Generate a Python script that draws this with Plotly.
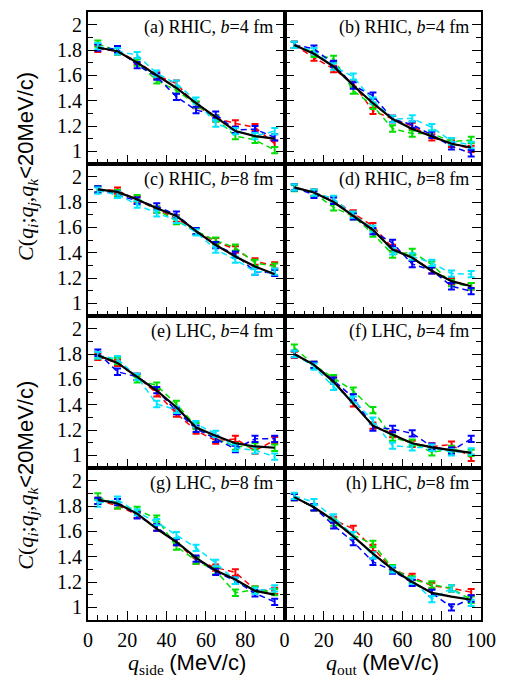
import plotly.graph_objects as go
from plotly.subplots import make_subplots

Q = [5, 15, 25, 35, 45, 55, 65, 75, 85, 95]
ERR = [0.025] * 10

PANEL_LABELS = ["(a) RHIC, <i>b</i>=4 fm", "(b) RHIC, <i>b</i>=4 fm",
                "(c) RHIC, <i>b</i>=8 fm", "(d) RHIC, <i>b</i>=8 fm",
                "(e) LHC, <i>b</i>=4 fm", "(f) LHC, <i>b</i>=4 fm",
                "(g) LHC, <i>b</i>=8 fm", "(h) LHC, <i>b</i>=8 fm"]
Y_TICKS = [1, 1.2, 1.4, 1.6, 1.8, 2]
Y_TICK_TEXT = ["1", "1.2", "1.4", "1.6", "1.8", "2"]
X_TICKS = [0, 20, 40, 60, 80, 100]
X_TICK_TEXT_LEFT = ["0", "20", "40", "60", "80", " "]
X_TICK_TEXT_RIGHT = ["0", "20", "40", "60", "80", "100"]

# (a) RHIC b=4, q_side
a_black = [1.82, 1.79, 1.70, 1.60, 1.50, 1.38, 1.27, 1.16, 1.12, 1.10]
a_red = [1.81, 1.79, 1.71, 1.60, 1.535, 1.365, 1.26, 1.22, 1.19, 1.06]
a_green = [1.85, 1.79, 1.70, 1.56, 1.48, 1.37, 1.26, 1.12, 1.09, 1.01]
a_blue = [1.82, 1.806, 1.68, 1.59, 1.43, 1.326, 1.29, 1.17, 1.175, 1.11]
a_cyan = [1.83, 1.79, 1.76, 1.614, 1.535, 1.40, 1.22, 1.16, 1.12, 1.16]
# (b) RHIC b=4, q_out
b_black = [1.84, 1.77, 1.67, 1.52, 1.38, 1.255, 1.176, 1.12, 1.06, 1.03]
b_red = [1.84, 1.74, 1.65, 1.535, 1.32, 1.255, 1.20, 1.11, 1.06, 1.02]
b_green = [1.84, 1.77, 1.73, 1.48, 1.36, 1.18, 1.14, 1.14, 1.076, 1.09]
b_blue = [1.84, 1.81, 1.69, 1.52, 1.44, 1.255, 1.21, 1.13, 1.04, 0.985]
b_cyan = [1.84, 1.79, 1.67, 1.59, 1.40, 1.255, 1.26, 1.19, 1.08, 1.05]
# (c) RHIC b=8, q_side
c_black = [1.90, 1.88, 1.82, 1.75, 1.69, 1.57, 1.46, 1.37, 1.29, 1.23]
c_red = [1.90, 1.89, 1.82, 1.74, 1.67, 1.57, 1.49, 1.425, 1.33, 1.30]
c_green = [1.90, 1.87, 1.83, 1.74, 1.65, 1.57, 1.495, 1.44, 1.32, 1.29]
c_blue = [1.90, 1.857, 1.81, 1.765, 1.70, 1.57, 1.46, 1.385, 1.25, 1.24]
c_cyan = [1.89, 1.857, 1.78, 1.71, 1.66, 1.56, 1.425, 1.345, 1.25, 1.25]
# (d) RHIC b=8, q_out
d_black = [1.915, 1.875, 1.80, 1.687, 1.58, 1.425, 1.36, 1.255, 1.175, 1.135]
d_red = [1.915, 1.875, 1.82, 1.71, 1.61, 1.437, 1.36, 1.26, 1.175, 1.135]
d_green = [1.91, 1.87, 1.757, 1.687, 1.55, 1.385, 1.405, 1.306, 1.16, 1.135]
d_blue = [1.915, 1.857, 1.81, 1.687, 1.57, 1.476, 1.31, 1.26, 1.135, 1.096]
d_cyan = [1.915, 1.875, 1.825, 1.70, 1.59, 1.41, 1.37, 1.32, 1.235, 1.23]
# (e) LHC b=4, q_side
e_black = [1.79, 1.73, 1.62, 1.51, 1.38, 1.22, 1.155, 1.095, 1.07, 1.06]
e_red = [1.777, 1.73, 1.62, 1.49, 1.33, 1.195, 1.116, 1.13, 1.037, 1.12]
e_green = [1.79, 1.745, 1.60, 1.55, 1.405, 1.23, 1.13, 1.07, 1.07, 1.06]
e_blue = [1.81, 1.66, 1.62, 1.515, 1.35, 1.21, 1.13, 1.05, 1.13, 1.13]
e_cyan = [1.79, 1.76, 1.62, 1.405, 1.36, 1.247, 1.17, 1.06, 1.04, 0.99]
# (f) LHC b=4, q_out
f_black = [1.80, 1.714, 1.58, 1.41, 1.234, 1.163, 1.095, 1.063, 1.043, 1.02]
f_red = [1.793, 1.714, 1.59, 1.41, 1.234, 1.168, 1.09, 1.07, 1.084, 0.98]
f_green = [1.85, 1.714, 1.61, 1.51, 1.357, 1.14, 1.10, 1.024, 1.05, 1.02]
f_blue = [1.80, 1.714, 1.59, 1.457, 1.22, 1.208, 1.173, 1.069, 1.037, 1.13]
f_cyan = [1.80, 1.70, 1.54, 1.44, 1.273, 1.076, 1.063, 1.06, 1.024, 1.03]
# (g) LHC b=8, q_side
g_black = [1.85, 1.82, 1.74, 1.62, 1.516, 1.39, 1.29, 1.22, 1.13, 1.10]
g_red = [1.84, 1.805, 1.73, 1.63, 1.516, 1.37, 1.314, 1.275, 1.14, 1.13]
g_green = [1.876, 1.805, 1.77, 1.70, 1.48, 1.37, 1.287, 1.115, 1.14, 1.12]
g_blue = [1.84, 1.83, 1.726, 1.63, 1.516, 1.385, 1.28, 1.21, 1.11, 1.043]
g_cyan = [1.82, 1.85, 1.75, 1.673, 1.57, 1.47, 1.35, 1.21, 1.13, 1.15]
# (h) LHC b=8, q_out
h_black = [1.87, 1.79, 1.686, 1.56, 1.424, 1.30, 1.20, 1.114, 1.085, 1.06]
h_red = [1.87, 1.79, 1.69, 1.62, 1.47, 1.30, 1.24, 1.17, 1.15, 1.12]
h_green = [1.87, 1.79, 1.67, 1.57, 1.50, 1.31, 1.22, 1.18, 1.15, 1.06]
h_blue = [1.87, 1.79, 1.647, 1.516, 1.36, 1.29, 1.193, 1.114, 1.0, 1.07]
h_cyan = [1.88, 1.83, 1.71, 1.57, 1.41, 1.30, 1.21, 1.065, 1.15, 1.035]

panels = [
    (a_black, a_red, a_green, a_blue, a_cyan),
    (b_black, b_red, b_green, b_blue, b_cyan),
    (c_black, c_red, c_green, c_blue, c_cyan),
    (d_black, d_red, d_green, d_blue, d_cyan),
    (e_black, e_red, e_green, e_blue, e_cyan),
    (f_black, f_red, f_green, f_blue, f_cyan),
    (g_black, g_red, g_green, g_blue, g_cyan),
    (h_black, h_red, h_green, h_blue, h_cyan),
]

COLORS = ["#ff0000", "#00e000", "#0000ff", "#00e5ff"]
SERIF = "Liberation Serif"

fig = make_subplots(rows=4, cols=2, horizontal_spacing=0, vertical_spacing=0)

for i, (blk, red, grn, blu, cyn) in enumerate(panels):
    row, col = i // 2 + 1, i % 2 + 1
    for ys, c in zip([red, grn, blu, cyn], COLORS):
        fig.add_trace(go.Scatter(
            x=Q, y=ys, mode="lines", showlegend=False,
            line=dict(color=c, width=1.5, dash="6px,4px"),
            error_y=dict(type="data", array=ERR, visible=True, color=c,
                         thickness=2, width=3.5)), row=row, col=col)
    fig.add_trace(go.Scatter(x=Q, y=blk, mode="lines", showlegend=False,
                             line=dict(color="black", width=2.2)),
                  row=row, col=col)
    n = i + 1
    xs = "" if n == 1 else str(n)
    fig.add_annotation(text=PANEL_LABELS[i], xref=f"x{xs} domain",
                       yref=f"y{xs} domain", x=0.95, y=0.895,
                       xanchor="right", yanchor="middle", showarrow=False,
                       font=dict(family=SERIF, size=18, color="black"))

for r in range(1, 5):
    for c in range(1, 3):
        bottom = r == 4
        fig.update_xaxes(
            row=r, col=c, range=[0, 100], tickvals=X_TICKS,
            ticktext=X_TICK_TEXT_LEFT if c == 1 else X_TICK_TEXT_RIGHT,
            showticklabels=bottom, ticks="inside", ticklen=9, tickwidth=1.3,
            tickcolor="black",
            minor=dict(dtick=5, ticks="inside", ticklen=5, tickwidth=1.3,
                       tickcolor="black", showgrid=False),
            showline=True, linecolor="black", linewidth=2, mirror=True,
            showgrid=False, zeroline=False, ticklabelstandoff=1,
            tickfont=dict(family=SERIF, size=20, color="black"))
        fig.update_yaxes(
            row=r, col=c, range=[0.9, 2.1], tickvals=Y_TICKS,
            ticktext=Y_TICK_TEXT, showticklabels=(c == 1),
            ticks="inside", ticklen=9, tickwidth=1.3, tickcolor="black",
            minor=dict(dtick=0.1, ticks="inside", ticklen=5, tickwidth=1.3,
                       tickcolor="black", showgrid=False),
            showline=True, linecolor="black", linewidth=2, mirror="ticks",
            showgrid=False, zeroline=False, ticklabelstandoff=0,
            tickfont=dict(family=SERIF, size=20, color="black"))

ytitle = ("<i>C</i>(<i>q</i><sub><i>i</i></sub>;<i>q</i><sub><i>j</i></sub>,"
          "<i>q</i><sub><i>k</i></sub>"
          "<span style=\"font-family:'Liberation Sans'\">&lt;20MeV/c)</span>")
for yc in [0.746, 0.238]:
    fig.add_annotation(text=ytitle, xref="paper", yref="paper", x=-0.154,
                       y=yc, textangle=-90, showarrow=False,
                       xanchor="center", yanchor="middle",
                       font=dict(family=SERIF, size=22, color="black"))

for xc, sub in [(0.2525, "side"), (0.75, "out")]:
    fig.add_annotation(
        text=(f"<i>q</i><sub>{sub}</sub> "
              "<span style=\"font-family:'Liberation Sans'\">(MeV/c)</span>"),
        xref="paper", yref="paper", x=xc, y=-0.073, showarrow=False,
        xanchor="center", yanchor="middle",
        font=dict(family=SERIF, size=22, color="black"))

fig.update_layout(width=506, height=677,
                  font=dict(family=SERIF, size=20, color="black"),
                  margin=dict(l=88, r=22, t=10, b=57),
                  paper_bgcolor="white", plot_bgcolor="white")

fig.write_html("out.html",
               config={"displayModeBar": False},
               post_script="document.body.style.margin='0';"
                           "document.body.style.overflow='hidden';")
